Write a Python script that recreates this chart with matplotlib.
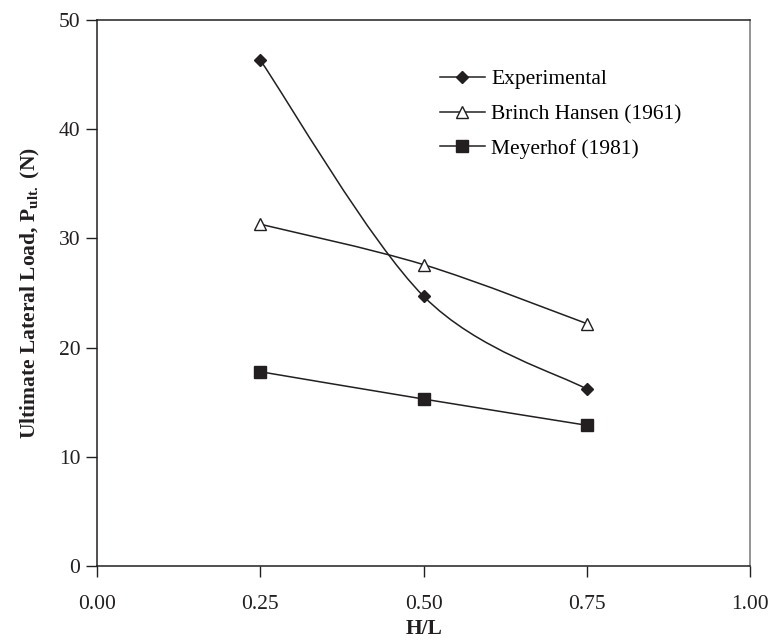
import matplotlib
matplotlib.use("Agg")
import matplotlib.pyplot as plt
from matplotlib.path import Path
from matplotlib.patches import PathPatch

plt.rcParams['font.family'] = 'Liberation Serif'
plt.rcParams['mathtext.fontset'] = 'custom'
plt.rcParams['mathtext.rm'] = 'Liberation Serif'
plt.rcParams['mathtext.bf'] = 'Liberation Serif:bold'

ink = '#231f20'
fs = 15.5

# H/L ratios and ultimate lateral loads (N)
hl = [0.25, 0.50, 0.75]
experimental = [46.3, 24.7, 16.2]
brinch_hansen = [31.3, 27.6, 22.2]
meyerhof = [17.8, 15.3, 12.9]


def smooth_path(xs, ys, t=1/6):
    # cubic bezier through the points, like a spreadsheet "smoothed line"
    pts = list(zip(xs, ys))
    n = len(pts)
    verts = [pts[0]]
    codes = [Path.MOVETO]
    for i in range(n - 1):
        p0 = pts[max(i - 1, 0)]
        p1 = pts[i]
        p2 = pts[i + 1]
        p3 = pts[min(i + 2, n - 1)]
        c1 = (p1[0] + (p2[0] - p0[0]) * t, p1[1] + (p2[1] - p0[1]) * t)
        c2 = (p2[0] - (p3[0] - p1[0]) * t, p2[1] - (p3[1] - p1[1]) * t)
        verts += [c1, c2, p2]
        codes += [Path.CURVE4] * 3
    return Path(verts, codes)


fig = plt.figure(figsize=(7.71, 6.42), dpi=100)
ax = fig.add_axes([0.126, 0.118, 0.847, 0.851])

series = [
    (experimental, 'D', ink, 6, 'Experimental'),
    (brinch_hansen, '^', 'white', 8, 'Brinch Hansen (1961)'),
    (meyerhof, 's', ink, 8.5, 'Meyerhof (1981)'),
]
for vals, mk, fc, ms, name in series:
    ax.add_patch(PathPatch(smooth_path(hl, vals), fill=False, edgecolor=ink, lw=1.1, zorder=2))
    ax.plot(hl, vals, linestyle='none', marker=mk, markersize=ms, markerfacecolor=fc,
            markeredgecolor=ink, markeredgewidth=1.0, zorder=3)
    ax.plot([], [], color=ink, lw=1.1, marker=mk, markersize=ms, markerfacecolor=fc,
            markeredgecolor=ink, markeredgewidth=1.0, label=name)

ax.set_xlim(0, 1)
ax.set_ylim(0, 50)
ax.set_xticks([0, 0.25, 0.5, 0.75, 1.0])
ax.set_xticklabels(['0.00', '0.25', '0.50', '0.75', '1.00'])
ax.set_yticks([0, 10, 20, 30, 40, 50])
ax.tick_params(direction='out', length=8, width=1.0, colors=ink, labelsize=fs, pad=13)
ax.tick_params(axis='y', pad=4)

for s in ax.spines.values():
    s.set_color(ink)
    s.set_linewidth(1.1)
ax.spines['right'].set_color('#777777')

ax.set_xlabel('H/L', fontsize=fs, fontweight='bold', color=ink, labelpad=3)
ax.set_ylabel(r'Ultimate Lateral Load, P$_{\mathbf{ult.}}$ (N)', fontsize=fs,
              fontweight='bold', color=ink, labelpad=12)

ax.legend(loc='upper left', bbox_to_anchor=(0.495, 0.945), frameon=False, fontsize=fs,
          handlelength=2.1, handletextpad=0.3, labelspacing=0.68)

fig.savefig('out.png', dpi=100)
